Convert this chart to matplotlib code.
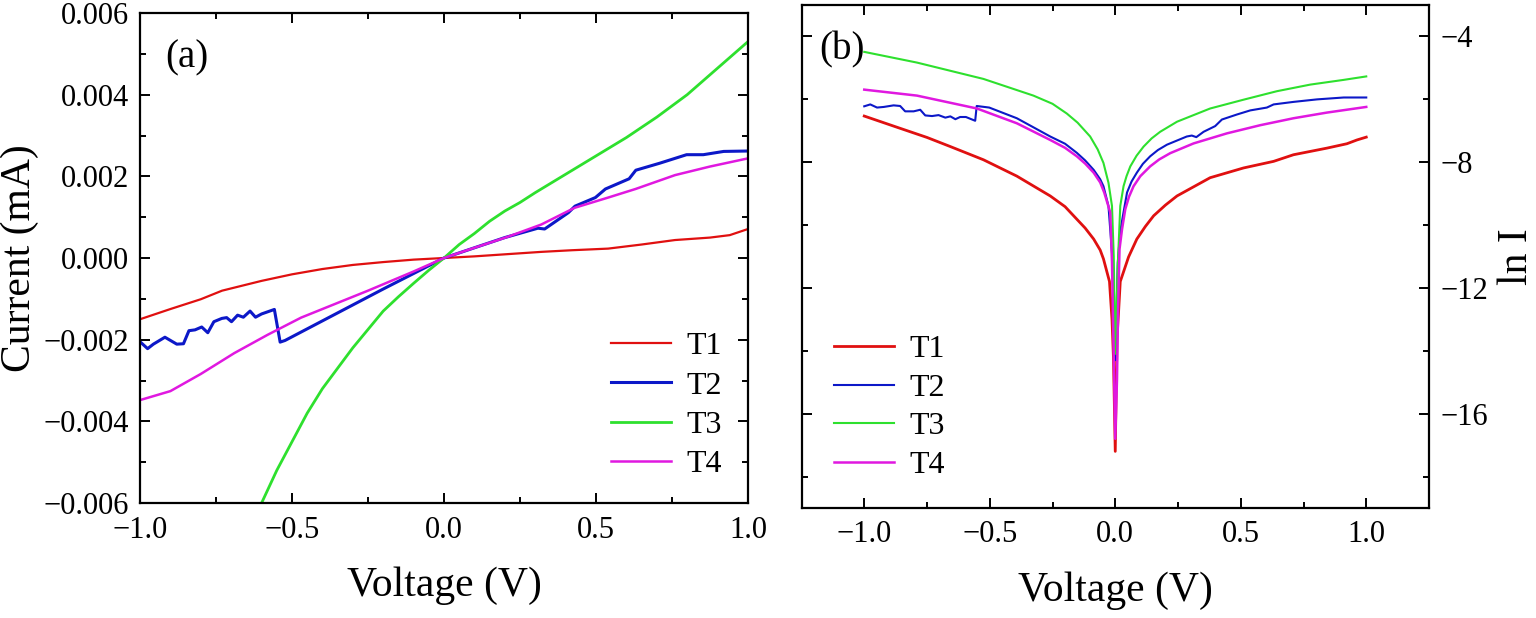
import matplotlib
matplotlib.use("Agg")
import matplotlib.pyplot as plt
from matplotlib.ticker import MultipleLocator, FuncFormatter

plt.rcParams['font.family'] = ['Liberation Serif', 'DejaVu Serif']

# ---- (a) current (mA) against voltage (V) ----
v_a_t1 = [-1.0, -0.9, -0.8, -0.73, -0.6, -0.5, -0.4, -0.3, -0.2, -0.1, 0.0,
          0.1, 0.2, 0.32, 0.42, 0.54, 0.65, 0.76, 0.875, 0.94, 1.0]
i_a_t1 = [-0.0015, -0.00125, -0.00101, -0.0008, -0.00056, -0.0004, -0.00027,
          -0.00017, -0.0001, -0.00004, 0.0, 0.00004, 0.00009, 0.00015, 0.00019,
          0.00023, 0.00033, 0.00044, 0.0005, 0.00056, 0.00071]

v_a_t2 = [-1.0, -0.975, -0.956, -0.918, -0.879, -0.857, -0.839, -0.819, -0.797,
          -0.777, -0.757, -0.731, -0.715, -0.699, -0.679, -0.66, -0.638, -0.62,
          -0.6, -0.558, -0.539, -0.523, -0.4, -0.3, -0.2, -0.1, 0.0, 0.1, 0.2,
          0.309, 0.331, 0.409, 0.431, 0.498, 0.531, 0.609, 0.631, 0.709, 0.798,
          0.853, 0.92, 1.0]
i_a_t2 = [-0.00205, -0.00222, -0.00211, -0.00194, -0.00211, -0.0021, -0.00178,
          -0.00176, -0.00169, -0.00183, -0.00156, -0.00148, -0.00146, -0.00156,
          -0.0014, -0.00145, -0.0013, -0.00145, -0.00137, -0.00126, -0.00206,
          -0.00202, -0.00154, -0.00115, -0.00076, -0.00038, 0.0, 0.00025, 0.0005,
          0.00073, 0.00071, 0.00111, 0.00127, 0.00148, 0.00169, 0.00194, 0.00215,
          0.00232, 0.00253, 0.00253, 0.00261, 0.00262]

v_a_t3 = [-1.0, -0.9, -0.8, -0.7, -0.6, -0.55, -0.5, -0.45, -0.4, -0.35, -0.3,
          -0.25, -0.2, -0.15, -0.1, -0.05, 0.0, 0.05, 0.1, 0.15, 0.2, 0.25, 0.3,
          0.4, 0.5, 0.6, 0.7, 0.8, 0.9, 1.0]
i_a_t3 = [-0.0112, -0.0097, -0.0084, -0.0072, -0.0060, -0.0052, -0.0045,
          -0.0038, -0.0032, -0.0027, -0.0022, -0.00175, -0.0013, -0.00095,
          -0.00062, -0.0003, 0.0, 0.00033, 0.0006, 0.0009, 0.00115, 0.00136,
          0.0016, 0.00205, 0.0025, 0.00295, 0.00345, 0.0040, 0.00465, 0.0053]

v_a_t4 = [-1.0, -0.9, -0.8, -0.69, -0.58, -0.47, -0.36, -0.25, -0.1, 0.0, 0.1,
          0.21, 0.32, 0.43, 0.54, 0.63, 0.76, 0.875, 1.0]
i_a_t4 = [-0.00348, -0.00326, -0.00284, -0.00233, -0.00188, -0.00146, -0.00113,
          -0.0008, -0.00033, 0.0, 0.00025, 0.00052, 0.00082, 0.00123, 0.00148,
          0.00169, 0.00203, 0.00224, 0.00244]

# ---- (b) ln I against voltage ----
v_b_t1 = [-1.0, -0.857, -0.75, -0.657, -0.525, -0.392, -0.259, -0.2, -0.153,
          -0.12, -0.086, -0.06, -0.047, -0.023, -0.013, -0.007, 0.0, 0.007,
          0.013, 0.02, 0.053, 0.086, 0.12, 0.153, 0.2, 0.246, 0.378, 0.511,
          0.631, 0.71, 0.843, 0.923, 0.963, 1.0]
ln_b_t1 = [-6.54, -6.93, -7.22, -7.51, -7.93, -8.45, -9.08, -9.42, -9.82,
           -10.1, -10.45, -10.8, -11.08, -11.80, -13.0, -14.25, -17.2, -13.6,
           -12.8, -11.8, -11.02, -10.45, -10.05, -9.71, -9.37, -9.08, -8.50,
           -8.19, -7.98, -7.77, -7.56, -7.42, -7.30, -7.21]

v_b_t2 = [-1.0, -0.976, -0.949, -0.922, -0.883, -0.857, -0.837, -0.803, -0.777,
          -0.757, -0.73, -0.704, -0.677, -0.657, -0.637, -0.618, -0.595, -0.558,
          -0.552, -0.502, -0.392, -0.259, -0.2, -0.153, -0.12, -0.086, -0.06,
          -0.047, -0.027, -0.01, 0.0, 0.01, 0.02, 0.033, 0.047, 0.065, 0.086,
          0.11, 0.139, 0.17, 0.206, 0.285, 0.305, 0.323, 0.352, 0.398, 0.425,
          0.485, 0.538, 0.604, 0.631, 0.71, 0.804, 0.91, 1.0]
ln_b_t2 = [-6.23, -6.17, -6.27, -6.25, -6.20, -6.22, -6.39, -6.39, -6.34, -6.52,
           -6.54, -6.51, -6.59, -6.55, -6.64, -6.57, -6.57, -6.69, -6.22, -6.27,
           -6.61, -7.19, -7.42, -7.71, -7.95, -8.25, -8.55, -8.77, -9.40, -11.2,
           -14.3, -11.2, -10.2, -9.60, -8.97, -8.62, -8.34, -8.06, -7.82, -7.62,
           -7.45, -7.19, -7.16, -7.21, -7.04, -6.86, -6.65, -6.49, -6.36, -6.27,
           -6.17, -6.09, -6.01, -5.95, -5.95]

v_b_t3 = [-1.0, -0.79, -0.525, -0.326, -0.25, -0.193, -0.15, -0.1, -0.07,
          -0.047, -0.027, -0.013, -0.006, 0.0, 0.01, 0.02, 0.033, 0.045, 0.06,
          0.085, 0.113, 0.145, 0.179, 0.246, 0.378, 0.511, 0.644, 0.777, 0.91,
          1.0]
ln_b_t3 = [-4.50, -4.84, -5.36, -5.89, -6.15, -6.46, -6.75, -7.19, -7.60,
           -8.03, -8.66, -9.40, -11.0, -14.1, -11.3, -9.40, -8.77, -8.45, -8.14,
           -7.80, -7.51, -7.25, -7.04, -6.72, -6.30, -6.02, -5.75, -5.54, -5.39,
           -5.28]

v_b_t4 = [-1.0, -0.79, -0.551, -0.392, -0.259, -0.2, -0.153, -0.12, -0.086,
          -0.06, -0.044, -0.02, -0.013, -0.007, 0.0, 0.007, 0.011, 0.017, 0.027,
          0.04, 0.055, 0.073, 0.1, 0.139, 0.175, 0.219, 0.312, 0.445, 0.578,
          0.71, 0.843, 1.0]
ln_b_t4 = [-5.70, -5.89, -6.30, -6.77, -7.30, -7.55, -7.82, -8.05, -8.34,
           -8.65, -8.97, -9.60, -11.2, -13.8, -16.8, -14.9, -12.8, -10.77,
           -10.14, -9.5, -9.1, -8.77, -8.45, -8.14, -7.92, -7.72, -7.41, -7.09,
           -6.83, -6.61, -6.43, -6.25]

labels = ["T1", "T2", "T3", "T4"]
colors = ["#e01010", "#0c18c8", "#2ee02e", "#e018e0"]


def fmt(spec):
    return FuncFormatter(lambda x, p: spec.format(x).replace("-", "\u2212"))


fig = plt.figure(figsize=(15.36, 6.18), dpi=100)
ax1 = fig.add_axes([140 / 1536, 1 - 503 / 618, 608 / 1536, 490 / 618])
ax2 = fig.add_axes([801.5 / 1536, 1 - 508 / 618, 627.5 / 1536, 503.3 / 618])

# panel (a)
lw_a = [1.6, 2.2, 2.0, 1.8]
for v, i, lab, c, w in zip([v_a_t1, v_a_t2, v_a_t3, v_a_t4],
                           [i_a_t1, i_a_t2, i_a_t3, i_a_t4], labels, colors, lw_a):
    ax1.plot(v, i, color=c, lw=w, label=lab)
ax1.set_xlim(-1.0, 1.0)
ax1.set_ylim(-0.006, 0.006)
ax1.xaxis.set_major_locator(MultipleLocator(0.5))
ax1.xaxis.set_minor_locator(MultipleLocator(0.25))
ax1.yaxis.set_major_locator(MultipleLocator(0.002))
ax1.yaxis.set_minor_locator(MultipleLocator(0.001))
ax1.xaxis.set_major_formatter(fmt("{:.1f}"))
ax1.yaxis.set_major_formatter(fmt("{:.3f}"))
ax1.set_xlabel("Voltage (V)", fontsize=30, va="center")
ax1.xaxis.set_label_coords(0.5, -0.168)
ax1.set_ylabel("Current (mA)", fontsize=30, va="center")
ax1.yaxis.set_label_coords(-0.197, 0.5)
ax1.text(0.041, 0.908, "(a)", transform=ax1.transAxes, fontsize=28,
         ha="left", va="center")
ax1.legend(loc="upper left", bbox_to_anchor=(0.775, 0.349), frameon=False,
           fontsize=23, handlelength=1.87, handletextpad=0.5, labelspacing=0.31,
           borderpad=0, borderaxespad=0)

# panel (b)
lw_b = [2.0, 1.5, 1.5, 1.8]
for v, l, lab, c, w in zip([v_b_t1, v_b_t2, v_b_t3, v_b_t4],
                           [ln_b_t1, ln_b_t2, ln_b_t3, ln_b_t4], labels, colors, lw_b):
    ax2.plot(v, l, color=c, lw=w, label=lab)
ax2.set_xlim(-1.25, 1.25)
ax2.set_ylim(-19, -3)
ax2.xaxis.set_major_locator(MultipleLocator(0.5))
ax2.xaxis.set_minor_locator(MultipleLocator(0.25))
ax2.yaxis.set_major_locator(MultipleLocator(4))
ax2.yaxis.set_minor_locator(MultipleLocator(2))
ax2.xaxis.set_major_formatter(fmt("{:.1f}"))
ax2.yaxis.set_major_formatter(fmt("{:g}"))
ax2.set_xlabel("Voltage (V)", fontsize=30, va="center")
ax2.xaxis.set_label_coords(0.5, -0.165)
ax2.yaxis.set_label_position("right")
ax2.set_ylabel("ln I", fontsize=30, rotation=90, va="center")
ax2.yaxis.set_label_coords(1.14, 0.5)
ax2.text(0.028, 0.911, "(b)", transform=ax2.transAxes, fontsize=28,
         ha="left", va="center")
ax2.legend(loc="upper left", bbox_to_anchor=(0.052, 0.344), frameon=False,
           fontsize=23, handlelength=1.87, handletextpad=0.5, labelspacing=0.29,
           borderpad=0, borderaxespad=0)

for ax in (ax1, ax2):
    ax.tick_params(which="both", direction="in", top=True, right=True,
                   width=1.4, labelsize=22)
    ax.tick_params(which="major", length=7)
    ax.tick_params(which="minor", length=4)
    ax.tick_params(axis="x", pad=9)
    ax.tick_params(axis="y", pad=8)
    for s in ax.spines.values():
        s.set_linewidth(1.6)
ax2.tick_params(axis="y", which="both", labelleft=False, labelright=True)

fig.savefig("out.png", dpi=100)
